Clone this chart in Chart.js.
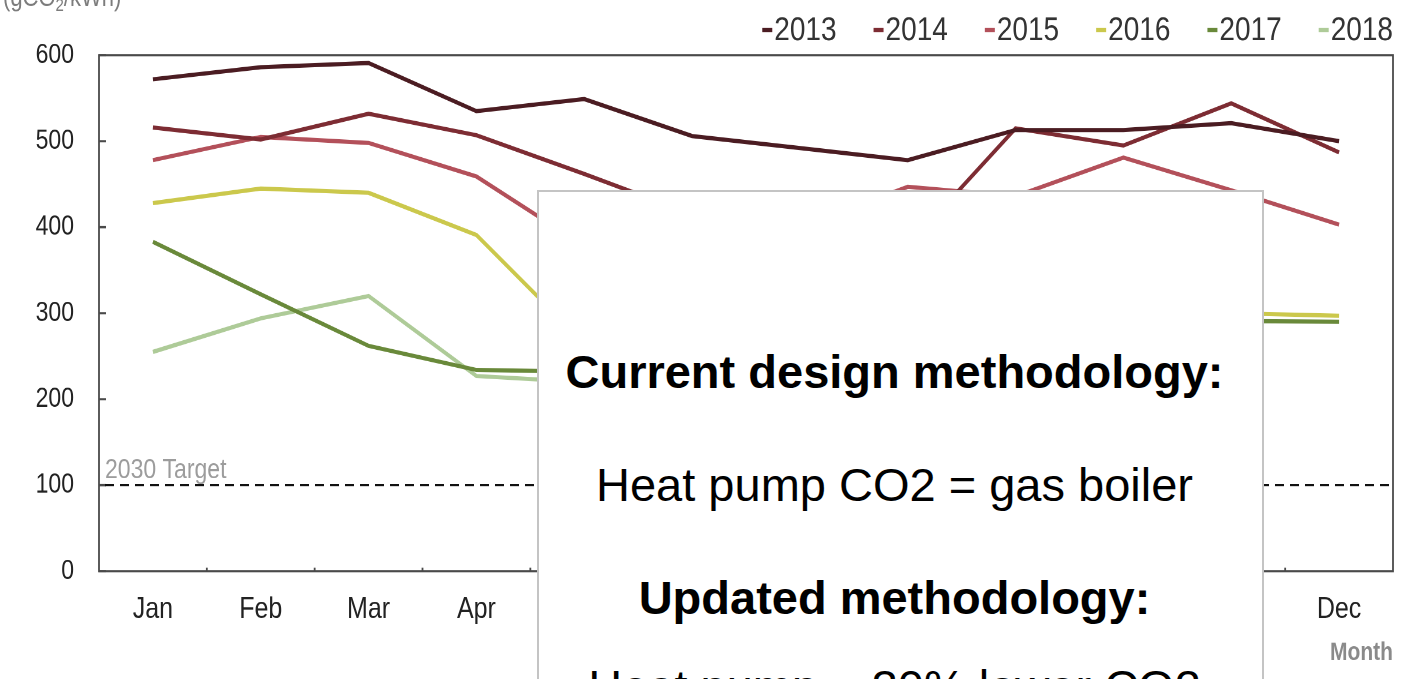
<!DOCTYPE html>
<html>
<head>
<meta charset="utf-8">
<script src="https://cdn.jsdelivr.net/npm/chart.js@4.4.1/dist/chart.umd.min.js"></script>
<style>
  html, body { margin: 0; padding: 0; background: #fff; overflow: hidden; }
  #wrap { position: relative; width: 1402px; height: 679px; overflow: hidden; background: #fff; }
  #c { position: absolute; left: 0; top: 0; transform-origin: 0 0; transform: scaleY(1.2); }
  #box {
    position: absolute; left: 537px; top: 190px; width: 727px; height: 620px;
    background: #fff; border: 2px solid #c4c4c4; box-sizing: border-box;
    font-family: "Liberation Sans", Arial, sans-serif; color: #000; text-align: center;
  }
  .ln { position: absolute; left: 0; right: 12px; font-size: 47px; line-height: 47px; white-space: nowrap; }
  .b { font-weight: bold; }
</style>
</head>
<body>
<div id="wrap">
  <canvas id="c" width="1402" height="566"></canvas>
  <div id="box">
    <div class="ln b" style="top:156px">Current design methodology:</div>
    <div class="ln" style="top:269px">Heat pump CO2 = gas boiler</div>
    <div class="ln b" style="top:382px">Updated methodology:</div>
    <div class="ln" style="top:471px">Heat pump = 30% lower CO2</div>
  </div>
</div>
<script>
// ---- data ----
const months = ['Jan','Feb','Mar','Apr','May','Jun','Jul','Aug','Sep','Oct','Nov','Dec'];
const years  = ['2013','2014','2015','2016','2017','2018'];
const v2013 = [572, 586, 591, 535, 549, 506, 492, 478, 513, 513, 521, 500];
const v2014 = [516, 502, 532, 507, 462, 415, 390, 378, 515, 495, 544, 487];
const v2015 = [478, 505, 498, 459, 378, 365, 400, 447, 436, 481, 443, 403];
const v2016 = [428, 445, 440, 391, 265, 240, 255, 270, 285, 295, 300, 297];
const v2017 = [383, 322, 262, 234, 232, 215, 225, 240, 260, 280, 291, 290];
const v2018 = [255, 294, 320, 227, 220, 210, null, null, null, null, null, null];
const yTicks = [0, 100, 200, 300, 400, 500, 600];
const targetValue = 100;
const targetLabel = '2030 Target';
const unitLabel = ['(gCO', '2', '/kWh)'];
const xTitle = 'Month';

const series = [v2013, v2014, v2015, v2016, v2017, v2018];
const colors = ['#4b1c22', '#7d2c33', '#b3505a', '#cbc84c', '#69893a', '#aecb98'];
const FAM = '"Liberation Sans", Arial, Helvetica, sans-serif';
Chart.defaults.font.family = FAM;

// frame, inner ticks, target line
const framePlugin = {
  id: 'frame',
  beforeDatasetsDraw(chart) {
    const { ctx, chartArea: a, scales: { x, y } } = chart;
    ctx.save();
    ctx.strokeStyle = '#4a4a4a';
    ctx.lineWidth = 1.8;
    ctx.strokeRect(a.left, a.top, a.right - a.left, a.bottom - a.top);
    ctx.beginPath();
    yTicks.forEach(v => {
      const py = y.getPixelForValue(v);
      ctx.moveTo(a.left, py); ctx.lineTo(a.left + 7, py);
    });
    for (let i = 1; i < months.length; i++) {
      const px = (x.getPixelForValue(i - 1) + x.getPixelForValue(i)) / 2;
      ctx.moveTo(px, a.bottom); ctx.lineTo(px, a.bottom - 3);
    }
    ctx.stroke();
    const ty = y.getPixelForValue(targetValue);
    ctx.setLineDash([9, 6]);
    ctx.strokeStyle = '#111';
    ctx.lineWidth = 1.6;
    ctx.beginPath(); ctx.moveTo(a.left + 6, ty); ctx.lineTo(a.right - 2, ty); ctx.stroke();
    ctx.setLineDash([]);
    ctx.fillStyle = '#9c9c9c';
    ctx.font = '23px ' + FAM;
    ctx.textAlign = 'left';
    ctx.textBaseline = 'alphabetic';
    ctx.fillText(targetLabel, a.left + 6, ty - 6);
    ctx.restore();
  }
};

// legend drawn as "-2013 -2014 ..." right aligned above the frame
const legendPlugin = {
  id: 'dashLegend',
  afterDraw(chart) {
    const { ctx, chartArea: a } = chart;
    const ds = chart.data.datasets;
    ctx.save();
    ctx.font = '28px ' + FAM;
    ctx.textBaseline = 'middle';
    ctx.textAlign = 'left';
    const mW = 10, mH = 3.4, gapIn = 2, gapOut = 37;
    const widths = ds.map(d => mW + gapIn + ctx.measureText(d.label).width);
    const total = widths.reduce((s, w) => s + w, 0) + gapOut * (ds.length - 1);
    let x = a.right - total;
    const yc = 25;
    ds.forEach((d, i) => {
      ctx.fillStyle = d.borderColor;
      ctx.fillRect(x, yc - mH / 2, mW, mH);
      ctx.fillStyle = '#333';
      ctx.fillText(d.label, x + mW + gapIn, yc + 1);
      x += widths[i] + gapOut;
    });
    // unit label, cut off at top-left
    ctx.fillStyle = '#7c7c7c';
    ctx.textBaseline = 'alphabetic';
    ctx.font = '22px ' + FAM;
    let ux = 3;
    ctx.fillText(unitLabel[0], ux, 5); ux += ctx.measureText(unitLabel[0]).width;
    ctx.font = '15px ' + FAM;
    ctx.fillText(unitLabel[1], ux, 9); ux += ctx.measureText(unitLabel[1]).width;
    ctx.font = '22px ' + FAM;
    ctx.fillText(unitLabel[2], ux, 5);
    ctx.restore();
  }
};

new Chart(document.getElementById('c'), {
  type: 'line',
  data: {
    labels: months,
    datasets: years.map((yr, i) => ({
      label: yr,
      data: series[i],
      borderColor: colors[i],
      backgroundColor: colors[i],
      borderWidth: 3.5,
      pointRadius: 0,
      tension: 0,
      fill: false,
      spanGaps: false
    }))
  },
  options: {
    responsive: false,
    animation: false,
    devicePixelRatio: 2,
    events: [],
    layout: { padding: { top: 46, right: 9, left: 0, bottom: 0 } },
    plugins: { legend: { display: false }, tooltip: { enabled: false } },
    scales: {
      x: {
        offset: true,
        grid: { display: false, drawTicks: false },
        border: { display: false },
        ticks: { color: '#222', font: { size: 25 }, padding: 17, maxRotation: 0, autoSkip: false },
        title: { display: true, text: xTitle, align: 'end', color: '#8a8a8a',
                 font: { size: 21, weight: 'bold' }, padding: { top: 0, bottom: 9 } },
        afterFit(s) { s.height = 90; }
      },
      y: {
        min: 0, max: 600,
        afterBuildTicks(s) { s.ticks = yTicks.map(v => ({ value: v })); },
        grid: { display: false, drawTicks: false },
        border: { display: false },
        ticks: { color: '#222', font: { size: 23 }, padding: 25 },
        afterFit(s) { s.width = 99; }
      }
    }
  },
  plugins: [framePlugin, legendPlugin]
});
</script>
</body>
</html>
